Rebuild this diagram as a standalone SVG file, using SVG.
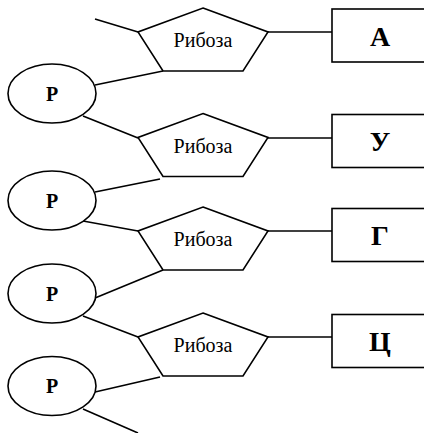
<svg xmlns="http://www.w3.org/2000/svg" width="424" height="433" viewBox="0 0 424 433">
<style>
.s{fill:#fff;stroke:#000;stroke-width:1.6}
.l{stroke:#000;stroke-width:1.6;fill:none}
.rb{font-family:"Liberation Serif",serif;font-size:20px;text-anchor:middle}
.p{font-family:"Liberation Serif",serif;font-size:20px;font-weight:bold;text-anchor:middle}
.b{font-family:"Liberation Serif",serif;font-size:28px;font-weight:bold;text-anchor:middle}
</style>
<defs>
<polygon id="pent" points="203,0 268,24 243,63 163,63 138,24"/>
</defs>
<rect width="424" height="433" fill="#fff"/>
<g id="connectors" class="l">
<line x1="95" y1="19" x2="138" y2="32"/>
<line x1="95" y1="85" x2="163" y2="71"/>
<line x1="83" y1="116" x2="138" y2="138"/>
<line x1="268" y1="32" x2="332" y2="32"/>
<line x1="268" y1="138" x2="332" y2="138"/>
<line x1="95" y1="192" x2="160" y2="179"/>
<line x1="83" y1="221" x2="138" y2="231"/>
<line x1="268" y1="231" x2="332" y2="231"/>
<line x1="95" y1="298" x2="163" y2="270"/>
<line x1="83" y1="316" x2="138" y2="337"/>
<line x1="268" y1="337" x2="332" y2="337"/>
<line x1="95" y1="392" x2="160" y2="377"/>
<line x1="83" y1="409" x2="138" y2="433"/>
</g>
<g id="ribose1"><use href="#pent" class="s" y="8"/><text class="rb" x="203" y="47">Рибоза</text></g>
<g id="ribose2"><use href="#pent" class="s" y="113.5"/><text class="rb" x="203" y="152.5">Рибоза</text></g>
<g id="ribose3"><use href="#pent" class="s" y="207"/><text class="rb" x="203" y="246">Рибоза</text></g>
<g id="ribose4"><use href="#pent" class="s" y="313"/><text class="rb" x="203" y="352">Рибоза</text></g>
<g id="baseA"><rect class="s" x="332" y="9" width="100" height="53"/><text class="b" x="380" y="46">А</text></g>
<g id="baseU"><rect class="s" x="332" y="114.5" width="100" height="53"/><text class="b" x="380" y="151">У</text></g>
<g id="baseG"><rect class="s" x="332" y="208.5" width="100" height="53"/><text class="b" x="380" y="245">Г</text></g>
<g id="baseC"><rect class="s" x="332" y="314.5" width="100" height="53"/><text class="b" x="380" y="351">Ц</text></g>
<g id="p1"><ellipse class="s" cx="52" cy="93.5" rx="44" ry="29.5"/><text class="p" x="52" y="100.5">Р</text></g>
<g id="p2"><ellipse class="s" cx="52" cy="200.5" rx="44" ry="29.5"/><text class="p" x="52" y="207.5">Р</text></g>
<g id="p3"><ellipse class="s" cx="52" cy="293.5" rx="44" ry="29.5"/><text class="p" x="52" y="300.5">Р</text></g>
<g id="p4"><ellipse class="s" cx="52" cy="386" rx="44" ry="29.5"/><text class="p" x="52" y="393">Р</text></g>
</svg>
